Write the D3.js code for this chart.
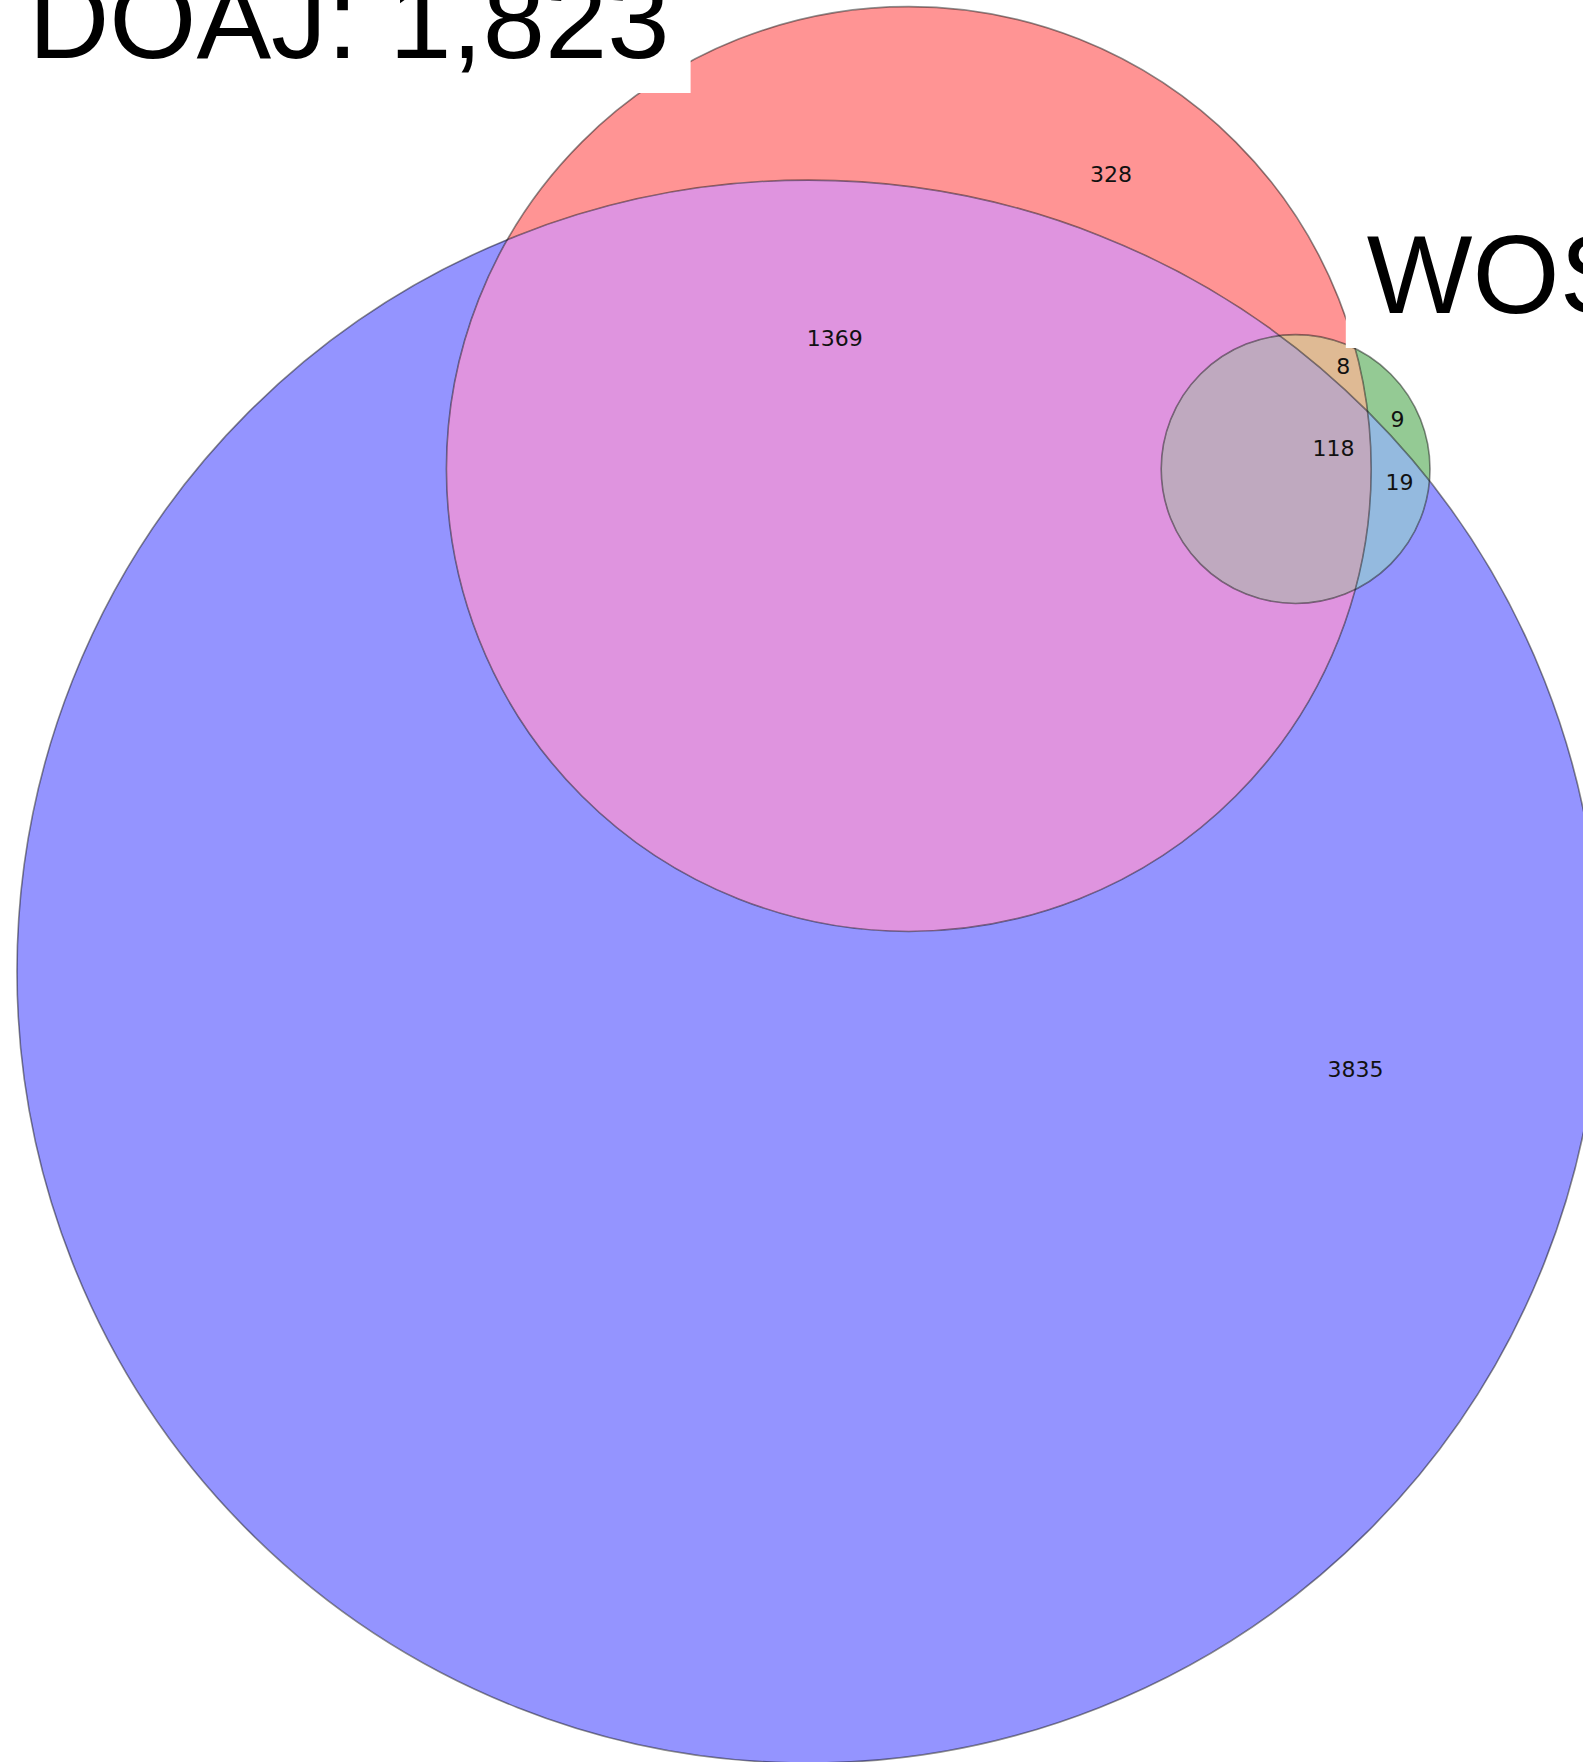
<!DOCTYPE html>
<html>
<head>
<meta charset="utf-8">
<script src="https://cdn.jsdelivr.net/npm/d3@7"></script>
<style>
  html, body { margin: 0; padding: 0; background: #ffffff; overflow: hidden; }
  svg { display: block; }
</style>
</head>
<body>
<div id="chart"></div>
<script>
// ---------------- data ----------------
// Set order: A = DOAJ (red), B = WOS (green), C = third set (blue)
const setLabels = ["DOAJ: 1,823", "WOS: 154"];
const regionKeys = ["100", "010", "110", "001", "101", "011", "111"];
const regionCounts = [328, 9, 8, 3835, 1369, 19, 118];
const setColors = ["#ff0000", "#008000", "#0000ff"];

// ---------------- layout constants ----------------
const W = 1583, H = 1762;
const fillAlpha = 0.42;
// region label anchors, in layout units relative to the centre of circle A
const regionLabelPos = [
  [10.54, -15.34], [25.46, -2.61], [22.64, -5.37], [23.27, 31.25],
  [-3.86, -6.83], [25.56, 0.68], [22.12, -1.10]
];

// ---------------- venn geometry ----------------
const sizes = [0, 1, 2].map(i =>
  d3.sum(regionKeys, (k, j) => k[i] === "1" ? regionCounts[j] : 0));
const pairSize = (a, b) =>
  d3.sum(regionKeys, (k, j) => (k[a] === "1" && k[b] === "1") ? regionCounts[j] : 0);
const radii = sizes.map(s => Math.sqrt(s / Math.PI));

function lensArea(r1, r2, d) {
  if (d >= r1 + r2) return 0;
  if (d <= Math.abs(r1 - r2)) return Math.PI * Math.min(r1, r2) ** 2;
  const a1 = Math.acos((d * d + r1 * r1 - r2 * r2) / (2 * d * r1));
  const a2 = Math.acos((d * d + r2 * r2 - r1 * r1) / (2 * d * r2));
  const t = Math.sqrt((-d + r1 + r2) * (d + r1 - r2) * (d - r1 + r2) * (d + r1 + r2));
  return r1 * r1 * a1 + r2 * r2 * a2 - 0.5 * t;
}
function distanceFor(r1, r2, area) {
  let lo = Math.abs(r1 - r2), hi = r1 + r2;
  for (let i = 0; i < 200; i++) {
    const mid = (lo + hi) / 2;
    if (lensArea(r1, r2, mid) > area) lo = mid; else hi = mid;
  }
  return (lo + hi) / 2;
}
const dAB = distanceFor(radii[0], radii[1], pairSize(0, 1));
const dAC = distanceFor(radii[0], radii[2], pairSize(0, 2));
const dBC = distanceFor(radii[1], radii[2], pairSize(1, 2));
const cxC = (dAC * dAC - dBC * dBC + dAB * dAB) / (2 * dAB);
const centers = [[0, 0], [dAB, 0], [cxC, Math.sqrt(Math.max(0, dAC * dAC - cxC * cxC))]];

// ---------------- scales ----------------
const left = centers[2][0] - radii[2];
const right = centers[1][0] + radii[1];
const bottom = centers[2][1] + radii[2];
const x = d3.scaleLinear().domain([left, right]).range([17, 1430]);
const k = (1430 - 17) / (right - left);
const y = d3.scaleLinear().domain([bottom - 1, bottom]).range([1763 - k, 1763]);
const rScale = d3.scaleSqrt().domain([0, 1]).range([0, k / Math.sqrt(Math.PI)]);
const rpx = sizes.map(s => rScale(s));

// ---------------- colours ----------------
function regionColor(key) {
  const cols = [0, 1, 2].filter(i => key[i] === "1").map(i => d3.rgb(setColors[i]));
  const f = cols.length === 1 ? 1 : (cols.length === 2 ? 0.7 : 0.4);
  const mix = ["r", "g", "b"].map(ch =>
    Math.min(1, f * d3.sum(cols, c => c[ch] / 255)));
  const out = mix.map(v => Math.round(255 * (1 - fillAlpha * (1 - v))));
  return d3.rgb(out[0], out[1], out[2]).formatHex();
}

// ---------------- drawing ----------------
const svg = d3.select("#chart").append("svg")
  .attr("width", W).attr("height", H)
  .attr("viewBox", `0 0 ${W} ${H}`);

svg.append("rect").attr("width", W).attr("height", H).attr("fill", "#ffffff");

const defs = svg.append("defs");
centers.forEach((c, i) => {
  defs.append("clipPath").attr("id", "clip" + i)
    .append("circle")
    .attr("cx", x(c[0])).attr("cy", y(c[1])).attr("r", rpx[i]);
  const m = defs.append("mask").attr("id", "mask" + i)
    .attr("maskUnits", "userSpaceOnUse")
    .attr("x", 0).attr("y", 0).attr("width", W).attr("height", H);
  m.append("rect").attr("width", W).attr("height", H).attr("fill", "#ffffff");
  m.append("circle")
    .attr("cx", x(c[0])).attr("cy", y(c[1])).attr("r", rpx[i])
    .attr("fill", "#000000");
});

const regionLayer = svg.append("g").attr("class", "regions");
regionKeys.forEach((key, j) => {
  let g = regionLayer.append("g").attr("class", "region r" + key);
  for (let i = 0; i < 3; i++) {
    g = g.append("g").attr(key[i] === "1" ? "clip-path" : "mask",
      key[i] === "1" ? `url(#clip${i})` : `url(#mask${i})`);
  }
  g.append("rect").attr("width", W).attr("height", H).attr("fill", regionColor(key));
});

// circle outlines
svg.append("g").attr("class", "outlines")
  .selectAll("circle").data(centers).join("circle")
  .attr("cx", d => x(d[0])).attr("cy", d => y(d[1]))
  .attr("r", (d, i) => rpx[i])
  .attr("fill", "none")
  .attr("stroke", "#000000")
  .attr("stroke-opacity", 0.45)
  .attr("stroke-width", 1.6);

// region count labels
svg.append("g").attr("class", "region-labels")
  .selectAll("text").data(regionCounts).join("text")
  .attr("x", (d, j) => x(centers[0][0] + regionLabelPos[j][0]))
  .attr("y", (d, j) => y(centers[0][1] + regionLabelPos[j][1]))
  .attr("dy", "0.35em")
  .attr("text-anchor", "middle")
  .attr("font-family", "'DejaVu Sans', sans-serif")
  .attr("font-size", 22)
  .attr("fill", "#111111")
  .text(d => d);

// set labels with white boxes
const setLabelSpec = [
  { text: setLabels[0], x: x(centers[0][0]) - rpx[0] / 2 - 8, y: 58, anchor: "end" },
  { text: setLabels[1], x: x(centers[1][0]) + rpx[1] / 2 + 4, y: 313, anchor: "start" }
];
const setLayer = svg.append("g").attr("class", "set-labels");
setLabelSpec.forEach(s => {
  const g = setLayer.append("g");
  const box = g.append("rect").attr("fill", "#ffffff");
  const t = g.append("text")
    .attr("x", s.x).attr("y", s.y)
    .attr("text-anchor", s.anchor)
    .attr("font-family", "'Liberation Sans', Arial, sans-serif")
    .attr("font-size", 112)
    .attr("fill", "#000000")
    .text(s.text);
  const bb = t.node().getBBox();
  const padX = 21, padY = 11;
  box.attr("x", bb.x - padX).attr("y", bb.y - padY)
    .attr("width", bb.width + 2 * padX).attr("height", bb.height + 2 * padY);
});
</script>
</body>
</html>
